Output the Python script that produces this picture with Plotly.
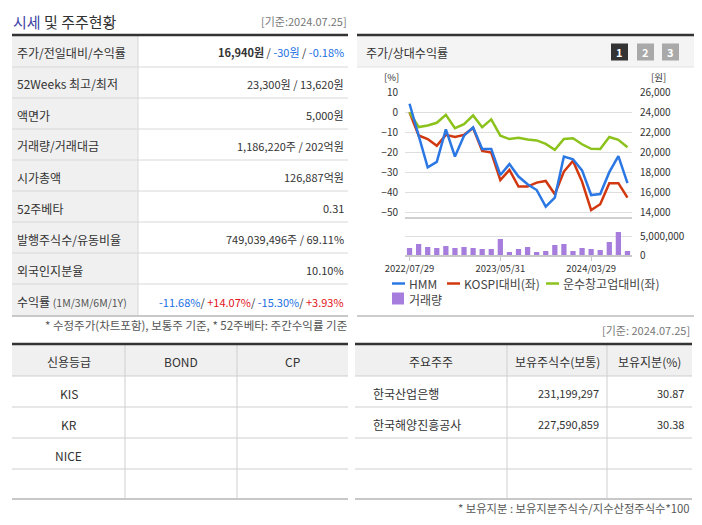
import plotly.graph_objects as go

# the page puts the plot 8px in from the top-left corner of the window
OFF = 8
W = 702 - OFF
H = 525 - OFF

# monthly chart data, 2022/07 ~ 2024/07
dates = ['2022/07/29', '2022/08/31', '2022/09/30', '2022/10/31', '2022/11/30', '2022/12/29',
         '2023/01/31', '2023/02/28', '2023/03/31', '2023/04/28', '2023/05/31', '2023/06/30',
         '2023/07/31', '2023/08/31', '2023/09/27', '2023/10/31', '2023/11/30', '2023/12/28',
         '2024/01/31', '2024/02/29', '2024/03/29', '2024/04/30', '2024/05/31', '2024/06/28',
         '2024/07/25']
hmm_price = [24860, 21600, 18520, 19060, 22300, 19600, 21680, 22500, 20360, 20360, 17760, 18840, 17600,
             16840, 16260, 14600, 15500, 19600, 19320, 18220, 15760, 15860, 18040, 19640, 16940]
kospi_rel = [0, -11.5, -13.3, -16.7, -11.2, -12.3, -11.2, -7.8, -19.2, -20.0, -33.7, -28.7, -37.0,
             -37.0, -35.0, -34.2, -40.8, -29.5, -24.2, -34.5, -48.7, -45.8, -35.3, -35.3, -42.5]
transport_rel = [0, -7.3, -6.5, -5.2, -1.2, -7.9, -5.9, -1.5, -7.4, -3.5, -11.6, -13.3, -12.6,
                 -13.5, -14.0, -15.7, -18.7, -13.3, -12.9, -15.9, -18.2, -18.3, -12.3, -13.7, -17.4]
volume = [1840000, 2900000, 2100000, 1840000, 2370000, 1840000, 2100000, 1840000, 1580000, 1580000,
          4200000, 800000, 1580000, 2100000, 800000, 1050000, 2630000, 2900000, 1050000, 1840000,
          1580000, 1300000, 3400000, 6050000, 1050000]

pct_ticks = [10, 0, -10, -20, -30, -40, -50]
price_ticks = [26000, 24000, 22000, 20000, 18000, 16000, 14000]
volume_ticks = [0, 5000000]
date_ticks = ['2022/07/29', '2023/05/31', '2024/03/29']

series_names = ['HMM', 'KOSPI대비(좌)', '운수창고업대비(좌)', '거래량']
series_colors = ['#2b78e4', '#d2380f', '#8cc21c', '#a67ddc']

# 시세 및 주주현황 table
BLUE = '#1a6fe3'
RED = '#e3131b'
info_labels = ['주가/전일대비/수익률', '52Weeks 최고/최저', '액면가', '거래량/거래대금', '시가총액',
               '52주베타', '발행주식수/유동비율', '외국인지분율',
               "수익률 <span style='font-size:10.5px;color:#555'>(1M/3M/6M/1Y)</span>"]
info_values = ["<b>16,940원</b> / <span style='color:%s'>-30원</span> / <span style='color:%s'>-0.18%%</span>" % (BLUE, BLUE),
               '23,300원 / 13,620원', '5,000원', '1,186,220주 / 202억원', '126,887억원', '0.31',
               '749,039,496주 / 69.11%', '10.10%',
               "<span style='color:%s'>-11.68%%</span>/ <span style='color:%s'>+14.07%%</span>/ "
               "<span style='color:%s'>-15.30%%</span>/ <span style='color:%s'>+3.93%%</span>" % (BLUE, RED, BLUE, RED)]

credit_header = ['신용등급', 'BOND', 'CP']
credit_agencies = ['KIS', 'KR', 'NICE', '']

holder_header = ['주요주주', '보유주식수(보통)', '보유지분(%)']
holder_names = ['한국산업은행', '한국해양진흥공사', '', '']
holder_shares = ['231,199,297', '227,590,859', '', '']
holder_ratio = ['30.87', '30.38', '', '']

shapes = []
annotations = []


# window pixels -> paper coordinates
def fx(x):
    return (x - OFF) / W


def fy(y):
    return 1 - (y - OFF) / H


def hline(x0, x1, y, color, width=1):
    shapes.append(dict(type='line', xref='paper', yref='paper', x0=fx(x0), x1=fx(x1), y0=fy(y), y1=fy(y),
                       line=dict(color=color, width=width)))


def vline(x, y0, y1, color, width=1):
    shapes.append(dict(type='line', xref='paper', yref='paper', x0=fx(x), x1=fx(x), y0=fy(y0), y1=fy(y1),
                       line=dict(color=color, width=width)))


def box(x0, y0, x1, y1, fill, layer='below'):
    shapes.append(dict(type='rect', xref='paper', yref='paper', x0=fx(x0), x1=fx(x1), y0=fy(y1), y1=fy(y0),
                       fillcolor=fill, line=dict(width=0), layer=layer))


def text(x, y, s, size=12, color='#333', anchor='left'):
    annotations.append(dict(xref='paper', yref='paper', x=fx(x), y=fy(y), text=s, showarrow=False,
                            xanchor=anchor, yanchor='middle', font=dict(size=size, color=color)))


def draw_info_table():
    text(11, 21, "<span style='color:#3d44a6'>시세</span> 및 주주현황", 15, '#333')
    text(349, 21, '[기준:2024.07.25]', 11, '#777', 'right')
    rows = [35, 67, 98, 129, 160, 191, 222, 253, 284, 316]
    box(12, 35, 138, 316, '#f0f0f0')
    for i in range(len(info_labels)):
        top, bottom = rows[i], rows[i + 1]
        mid = (top + bottom) / 2 + 1.5
        text(15, mid, info_labels[i], 12, '#333')
        text(346, mid, info_values[i], 11, '#333', 'right')
        if i > 0:
            hline(12, 348, top, '#d8d8d8', 1)
    vline(138, 35, 316, '#d8d8d8', 1)
    hline(12, 348, 35, '#333', 2.5)
    hline(12, 348, 316, '#c8c8c8', 2)
    text(349, 325, '* 수정주가(차트포함), 보통주 기준, * 52주베타: 주간수익률 기준', 11.5, '#555', 'right')


def draw_grid_table(x0, x1, cols, header, cells, aligns):
    rows = [344, 376, 407, 438, 469, 499]
    box(x0, rows[0], x1, rows[1], '#f0f0f0')
    edges = [x0] + cols + [x1]
    for j, h in enumerate(header):
        text((edges[j] + edges[j + 1]) / 2, 361, h, 12, '#333', 'center')
    for i in range(4):
        mid = (rows[i + 1] + rows[i + 2]) / 2 + 1.5
        for j, col in enumerate(cells):
            if aligns[j] == 'center':
                text((edges[j] + edges[j + 1]) / 2, mid, col[i], 12, '#333', 'center')
            elif aligns[j] == 'left':
                text(edges[j] + 16, mid, col[i], 12, '#333', 'left')
            else:
                text(edges[j + 1] - 6, mid, col[i], 11, '#333', 'right')
        hline(x0, x1, rows[i + 1], '#cfcfcf', 1)
    for c in cols:
        vline(c, rows[0], rows[-1], '#cfcfcf', 1)
    hline(x0, x1, rows[0], '#333', 2.5)
    hline(x0, x1, rows[-1], '#c8c8c8', 2)


def draw_chart_frame():
    hline(357, 700, 35, '#333', 2.5)
    box(357, 36, 700, 67, '#f4f4f4')
    hline(357, 700, 67, '#e2e2e2', 1)
    text(364, 52, '주가/상대수익률', 12, '#333')
    button_fill = ['#333333', '#a9a9a9', '#a9a9a9']
    for k, x in enumerate([611, 637, 662]):
        box(x, 43.5, x + 17, 60.5, button_fill[k], 'above')
        text(x + 8.5, 52.5, '<b>%d</b>' % (k + 1), 11, 'white', 'center')
    text(391, 77.5, '[%]', 9.5, '#333', 'center')
    text(658, 77.5, '[원]', 9.5, '#333', 'center')
    hline(357, 700, 316, '#cccccc', 2)

    # legend
    for k, x in enumerate([392, 447, 546]):
        hline(x, x + 13, 283.5, series_colors[k], 2.5)
        text(x + 15, 283.5, series_names[k], 12, '#444')
    box(392, 292.5, 404, 304.5, series_colors[3], 'above')
    text(407, 299, series_names[3], 12, '#444')


draw_info_table()
draw_grid_table(12, 348, [125, 237], credit_header, [credit_agencies, [''] * 4, [''] * 4],
                ['center', 'center', 'center'])
text(692, 330, '[기준: 2024.07.25]', 11, '#777', 'right')
draw_grid_table(355, 692, [507, 607], holder_header, [holder_names, holder_shares, holder_ratio],
                ['left', 'right', 'right'])
text(692, 508, '* 보유지분 : 보유지분주식수/지수산정주식수*100', 11.3, '#555', 'right')
draw_chart_frame()

fig = go.Figure()
fig.add_trace(go.Scatter(x=dates, y=kospi_rel, name=series_names[1], xaxis='x', yaxis='y',
                         mode='lines', line=dict(color=series_colors[1], width=2.5)))
fig.add_trace(go.Scatter(x=dates, y=transport_rel, name=series_names[2], xaxis='x', yaxis='y',
                         mode='lines', line=dict(color=series_colors[2], width=2.5)))
fig.add_trace(go.Scatter(x=dates, y=hmm_price, name=series_names[0], xaxis='x', yaxis='y2',
                         mode='lines', line=dict(color=series_colors[0], width=2.5)))
fig.add_trace(go.Bar(x=dates, y=volume, name=series_names[3], xaxis='x2', yaxis='y3',
                     marker=dict(color=series_colors[3], line=dict(width=0)), width=0.58))

# price scale is tied to the % scale: 24,000원 = 0%
pct_range = [-52, 10]
price_range = [24000 + 200 * pct_range[0], 24000 + 200 * pct_range[1]]
tick_font = dict(size=10, color='#333')

fig.update_layout(
    template='none',
    width=W, height=H,
    margin=dict(l=0, r=0, t=0, b=0, pad=0, autoexpand=False),
    paper_bgcolor='white', plot_bgcolor='white',
    font=dict(family='Noto Sans CJK KR', color='#333'),
    showlegend=False,
    hovermode=False,
    shapes=shapes,
    annotations=annotations,
    xaxis=dict(domain=[fx(405), fx(632)], type='category', range=[-0.5, len(dates) - 0.5],
               anchor='y', showticklabels=False, showgrid=False, showline=True, automargin=False,
               linecolor='#d0d0d0', linewidth=1.5, ticks=''),
    yaxis=dict(domain=[fy(216.7), fy(92.3)], range=pct_range, tickvals=pct_ticks, automargin=False,
               showgrid=True, gridcolor='#dedede', gridwidth=1, zeroline=False, showline=False,
               tickfont=tick_font, ticklabelstandoff=6, anchor='x', ticks=''),
    yaxis2=dict(overlaying='y', side='right', range=price_range, tickvals=price_ticks, automargin=False,
                tickformat=',', showgrid=False, zeroline=False, showline=False, tickfont=tick_font,
                ticklabelstandoff=7, anchor='x', ticks=''),
    xaxis2=dict(domain=[fx(405), fx(632)], type='category', range=[-0.5, len(dates) - 0.5],
                anchor='y3', tickvals=date_ticks, ticktext=date_ticks, ticks='outside', ticklen=4,
                tickcolor='#c8c8c8', showline=True, linecolor='#c8c8c8', linewidth=1.5, automargin=False,
                showgrid=False, tickfont=dict(size=9.5, color='#333')),
    yaxis3=dict(domain=[fy(255), fy(226.5)], range=[0, 7500000], tickvals=volume_ticks, automargin=False,
                tickformat=',', side='right', anchor='x2', showgrid=True, gridcolor='#dedede',
                zeroline=False, showline=False, tickfont=tick_font, ticklabelstandoff=7, ticks=''),
)

fig.write_html('out.html')
